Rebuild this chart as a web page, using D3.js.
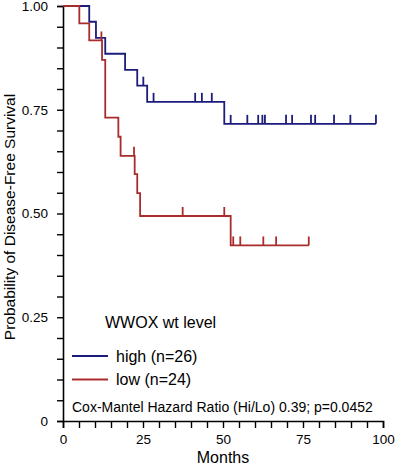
<!DOCTYPE html>
<html>
<head>
<meta charset="utf-8">
<script src="https://cdn.jsdelivr.net/npm/d3@7"></script>
<style>
  body { margin: 0; background: #fff; }
  svg { display: block; font-family: "Liberation Sans", Arial, sans-serif; }
</style>
</head>
<body>
<div id="chart"></div>
<script>
// step points of the Kaplan-Meier curves (months, survival)
const highTimes = [0, 8.2, 10.3, 13.2, 19.4, 23.2, 26.3, 50.4, 97.8];
const highSurv = [1, 0.962, 0.923, 0.885, 0.846, 0.808, 0.769, 0.716, 0.716];
const highCensor = [25.1, 28.3, 41.3, 43.4, 46.5, 52.4, 57.6, 61.0, 62.3, 63.1, 69.7, 71.6, 77.5, 78.8, 84.7, 89.8, 97.8];

const lowTimes = [0, 5.1, 8.2, 12.2, 13.2, 17.3, 18.0, 22.4, 23.2, 24.1, 52.4, 76.8];
const lowSurv = [1, 0.958, 0.917, 0.870, 0.731, 0.685, 0.639, 0.595, 0.549, 0.494, 0.423, 0.423];
const lowCensor = [12.0, 22.2, 37.4, 50.4, 53.2, 55.4, 62.6, 66.6, 76.8];

const xTicks = [0, 25, 50, 75, 100];
const yTicks = [0, 0.25, 0.5, 0.75, 1];
const yTickLabels = ["0", "0.25", "0.50", "0.75", "1.00"];

const groups = [
  {label: "high (n=26)", times: highTimes, surv: highSurv, censor: highCensor, color: "#1c1c7c"},
  {label: "low (n=24)", times: lowTimes, surv: lowSurv, censor: lowCensor, color: "#a82c2c"}
];

const width = 397, height = 465;
const margin = {top: 6, right: 14, bottom: 44, left: 63};

const svg = d3.select("#chart").append("svg")
  .attr("width", width)
  .attr("height", height);

const x = d3.scaleLinear().domain([0, 100]).range([margin.left, 383]);
const y = d3.scaleLinear().domain([0, 1]).range([421, margin.top]);

// axes
const xAxis = d3.axisBottom(x)
  .tickValues(d3.range(0, 101, 5))
  .tickSize(7)
  .tickFormat(d => xTicks.includes(d) ? d : "");
const yAxis = d3.axisLeft(y)
  .tickValues(d3.range(0, 1.001, 0.05))
  .tickSize(6)
  .tickFormat(d => {
    const i = yTicks.findIndex(t => Math.abs(t - d) < 1e-6);
    return i >= 0 ? yTickLabels[i] : "";
  });

const gx = svg.append("g")
  .attr("transform", "translate(0," + y(0) + ")")
  .call(xAxis);
const gy = svg.append("g")
  .attr("transform", "translate(" + x(0) + ",0)")
  .call(yAxis);

[gx, gy].forEach(g => {
  g.select(".domain").attr("stroke", "#000").attr("stroke-width", 1.6);
  g.selectAll(".tick line").attr("stroke", "#000").attr("stroke-width", 1.4);
  g.selectAll(".tick text").attr("fill", "#000").style("font-size", "13.5px")
    .style("font-family", "Liberation Sans, Arial, sans-serif");
});
gx.selectAll(".tick text").attr("dy", "0.95em");
gy.selectAll(".tick text").attr("x", -15);

svg.append("text")
  .attr("x", x(50))
  .attr("y", 463)
  .attr("text-anchor", "middle")
  .style("font-size", "16px")
  .text("Months");

svg.append("text")
  .attr("transform", "translate(15," + 217 + ") rotate(-90)")
  .attr("text-anchor", "middle")
  .style("font-size", "15.5px")
  .text("Probability of  Disease-Free Survival");

// curves
const line = d3.line()
  .x(d => x(d[0]))
  .y(d => y(d[1]))
  .curve(d3.curveStepAfter);

function survAt(g, t) {
  let s = g.surv[0];
  g.times.forEach((tt, i) => { if (tt <= t) s = g.surv[i]; });
  return s;
}

groups.forEach(g => {
  const pts = g.times.map((t, i) => [t, g.surv[i]]);
  svg.append("path")
    .datum(pts)
    .attr("d", line)
    .attr("fill", "none")
    .attr("stroke", g.color)
    .attr("stroke-width", 1.8);

  svg.selectAll(null)
    .data(g.censor)
    .enter().append("line")
    .attr("x1", d => x(d))
    .attr("x2", d => x(d))
    .attr("y1", d => y(survAt(g, d)))
    .attr("y2", d => y(survAt(g, d)) - 9)
    .attr("stroke", g.color)
    .attr("stroke-width", 1.8);
});

// legend
svg.append("text")
  .attr("x", 105)
  .attr("y", 328)
  .style("font-size", "16px")
  .text("WWOX wt level");

const leg = svg.selectAll(".leg")
  .data(groups)
  .enter().append("g")
  .attr("class", "leg")
  .attr("transform", (d, i) => "translate(72," + (356 + i * 23.5) + ")");
leg.append("line")
  .attr("x1", 0).attr("x2", 36)
  .attr("stroke", d => d.color)
  .attr("stroke-width", 1.8);
leg.append("text")
  .attr("x", 44)
  .attr("dy", "0.35em")
  .style("font-size", "16px")
  .text(d => d.label);

svg.append("text")
  .attr("x", 72)
  .attr("y", 412)
  .style("font-size", "14px")
  .text("Cox-Mantel Hazard Ratio (Hi/Lo) 0.39; p=0.0452");
</script>
</body>
</html>
